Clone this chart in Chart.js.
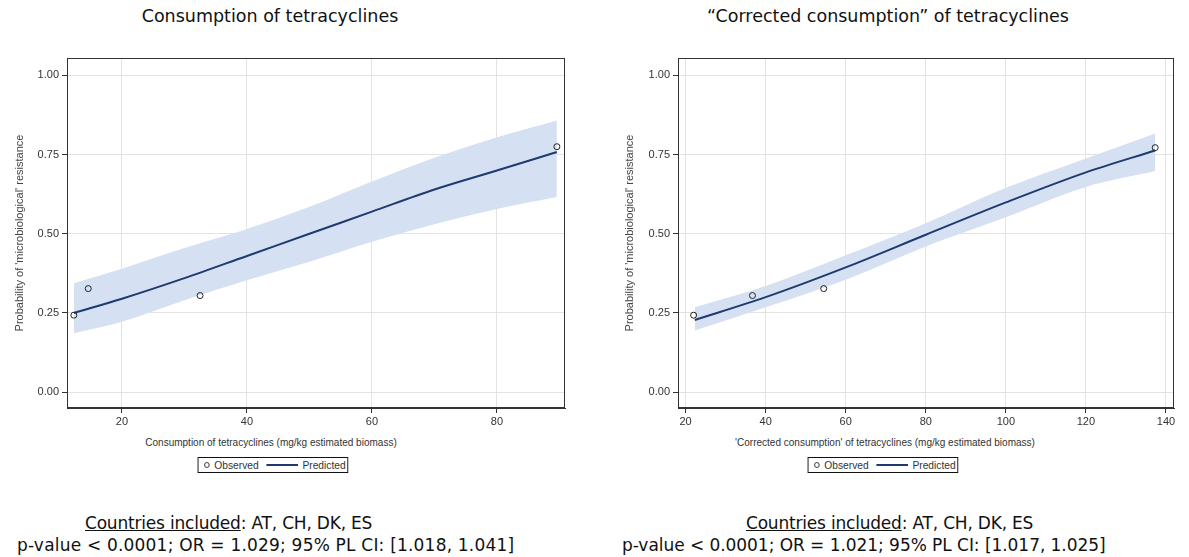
<!DOCTYPE html>
<html>
<head>
<meta charset="utf-8">
<script src="https://cdn.jsdelivr.net/npm/chart.js@4.4.1/dist/chart.umd.min.js"></script>
<style>
    body { margin: 0; background: #fff; width: 1189px; height: 557px; position: relative; overflow: hidden; }
    canvas { position: absolute; }
    .title { position: absolute; top: 5px; font: 17.5px "DejaVu Sans", Verdana, sans-serif; line-height: 22px; color: #111; white-space: nowrap; transform: translateX(-50%); }
    .xlabel { position: absolute; top: 436px; font: 11px "Liberation Sans", Arial, sans-serif; color: #333; white-space: nowrap; transform: translateX(-50%) scaleX(0.91); }
    .legend { position: absolute; top: 457px; height: 14px; border: 1px solid #111; font: 11px "Liberation Sans", Arial, sans-serif; color: #333; line-height: 14px; white-space: nowrap; transform: translateX(-50%) scaleX(0.93); padding: 0 2px 0 6px; display: flex; align-items: center; }
    .legend .dot { width: 4px; height: 4px; border: 1px solid #333; border-radius: 50%; margin-right: 5px; }
    .legend .line { width: 34px; height: 2px; background: #1e3a6e; margin: 0 5px 0 8px; }
    .note { position: absolute; font: 17px "DejaVu Sans", Verdana, sans-serif; color: #111; white-space: nowrap; line-height: 20px; }
    .note u { text-decoration: underline; }
</style>
</head>
<body>
<div class="title" style="left:270px">Consumption of tetracyclines</div>
<div class="title" style="left:888px">“Corrected consumption” of tetracyclines</div>

<canvas id="chartLeft" width="570" height="390" style="left:0px; top:40px"></canvas>
<canvas id="chartRight" width="589" height="390" style="left:590px; top:40px"></canvas>

<div class="xlabel" style="left:271px">Consumption of tetracyclines (mg/kg estimated biomass)</div>
<div class="xlabel" style="left:885px">'Corrected consumption' of tetracyclines (mg/kg estimated biomass)</div>

<div class="legend" style="left:273px"><span class="dot"></span>Observed<span class="line"></span>Predicted</div>
<div class="legend" style="left:883px"><span class="dot"></span>Observed<span class="line"></span>Predicted</div>

<div class="note" style="left:85px; top:513px; letter-spacing:-0.2px"><u>Countries included</u>: AT, CH, DK, ES</div>
<div class="note" style="left:17px; top:535px; letter-spacing:0.2px">p-value &lt; 0.0001; OR = 1.029; 95% PL CI: [1.018, 1.041]</div>
<div class="note" style="left:746px; top:513px; letter-spacing:-0.2px"><u>Countries included</u>: AT, CH, DK, ES</div>
<div class="note" style="left:622px; top:535px; letter-spacing:-0.05px">p-value &lt; 0.0001; OR = 1.021; 95% PL CI: [1.017, 1.025]</div>

<script>
// Left panel: consumption of tetracyclines
const observedX1 = [12.3, 14.6, 32.5, 89.6];
const observedY1 = [0.243, 0.327, 0.305, 0.775];
const predictedX1 = [12.3, 20, 30, 40, 50, 60, 70, 80, 89.6];
const predictedY1 = [0.250, 0.295, 0.360, 0.430, 0.500, 0.570, 0.640, 0.700, 0.758];
const upperCL1 = [0.344, 0.390, 0.455, 0.515, 0.585, 0.665, 0.740, 0.805, 0.858];
const lowerCL1 = [0.186, 0.222, 0.290, 0.353, 0.412, 0.475, 0.530, 0.578, 0.616];
const xTicks1 = [20, 40, 60, 80];

// Right panel: "corrected consumption" of tetracyclines
const observedX2 = [22.0, 36.7, 54.5, 137.3];
const observedY2 = [0.243, 0.305, 0.327, 0.772];
const predictedX2 = [22.3, 40, 60, 80, 100, 120, 137.3];
const predictedY2 = [0.228, 0.300, 0.394, 0.497, 0.599, 0.694, 0.763];
const upperCL2 = [0.268, 0.335, 0.432, 0.533, 0.645, 0.738, 0.817];
const lowerCL2 = [0.195, 0.268, 0.355, 0.460, 0.552, 0.648, 0.698];
const xTicks2 = [20, 40, 60, 80, 100, 120, 140];

const yTicks = [0, 0.25, 0.5, 0.75, 1];
const yTitle = "Probability of 'microbiological' resistance";

const BAND_COLOR = "rgb(213, 225, 242)";
const LINE_COLOR = "#1e3a6e";
const TICK_FONT = { family: "'Liberation Sans', Arial, sans-serif", size: 11 };

const toPoints = (xs, ys) => xs.map((x, i) => ({ x: x, y: ys[i] }));

// draws the top and right sides of the plot frame
const framePlugin = {
    id: "frame",
    afterDraw(chart) {
        const { ctx, chartArea } = chart;
        ctx.save();
        ctx.strokeStyle = "#333";
        ctx.lineWidth = 1;
        ctx.strokeRect(Math.round(chartArea.left) + 0.5, Math.round(chartArea.top) + 0.5,
            Math.round(chartArea.right - chartArea.left) - 1, Math.round(chartArea.bottom - chartArea.top) - 1);
        ctx.restore();
    },
};

const createPanel = function (canvasId, opts) {
    const config = {
        type: "scatter",
        data: {
            datasets: [{
                label: "Upper CL",
                data: toPoints(opts.fitX, opts.upper),
                showLine: true,
                borderWidth: 0,
                pointRadius: 0,
                cubicInterpolationMode: "monotone",
                backgroundColor: BAND_COLOR,
                fill: "+1",
                order: 3,
            }, {
                label: "Lower CL",
                data: toPoints(opts.fitX, opts.lower),
                showLine: true,
                borderWidth: 0,
                pointRadius: 0,
                cubicInterpolationMode: "monotone",
                fill: false,
                order: 4,
            }, {
                label: "Predicted",
                data: toPoints(opts.fitX, opts.fitY),
                showLine: true,
                borderColor: LINE_COLOR,
                borderWidth: 2,
                pointRadius: 0,
                cubicInterpolationMode: "monotone",
                fill: false,
                order: 1,
            }, {
                label: "Observed",
                data: toPoints(opts.obsX, opts.obsY),
                showLine: false,
                pointStyle: "circle",
                pointRadius: 3,
                borderColor: "#222",
                borderWidth: 1,
                backgroundColor: "rgba(0,0,0,0)",
                order: 0,
            }],
        },
        options: {
            responsive: false,
            animation: false,
            devicePixelRatio: 1,
            layout: { padding: { top: 18, right: 1, left: 0, bottom: 0 } },
            plugins: {
                legend: { display: false },
                tooltip: { enabled: false },
            },
            scales: {
                x: {
                    type: "linear",
                    min: opts.xMin,
                    max: opts.xMax,
                    grid: { color: "#e3e3e3", tickColor: "#333", tickLength: 5 },
                    border: { display: true, color: "#333" },
                    afterBuildTicks: function (scale) {
                        scale.ticks = opts.xTicks.map((v) => ({ value: v }));
                    },
                    ticks: {
                        maxRotation: 0,
                        autoSkip: false,
                        padding: 2,
                        color: "#333",
                        font: TICK_FONT,
                    },
                    afterFit: function (scale) {
                        scale.height = 22;
                    },
                },
                y: {
                    type: "linear",
                    min: -0.05,
                    max: 1.055,
                    grid: { color: "#e3e3e3", tickColor: "#333", tickLength: 5 },
                    border: { display: true, color: "#333" },
                    afterBuildTicks: function (scale) {
                        scale.ticks = yTicks.map((v) => ({ value: v }));
                    },
                    ticks: {
                        padding: 3,
                        color: "#333",
                        font: TICK_FONT,
                        callback: (value) => value.toFixed(2),
                    },
                    title: {
                        display: true,
                        text: yTitle,
                        color: "#444",
                        font: TICK_FONT,
                        padding: { top: opts.yTitlePad, bottom: 0 },
                    },
                    afterFit: function (scale) {
                        scale.width = opts.yWidth;
                    },
                },
            },
        },
        plugins: [framePlugin],
    };
    return new Chart(document.getElementById(canvasId).getContext("2d"), config);
};

createPanel("chartLeft", {
    obsX: observedX1, obsY: observedY1,
    fitX: predictedX1, fitY: predictedY1,
    upper: upperCL1, lower: lowerCL1,
    xMin: 11.2, xMax: 90.9, xTicks: xTicks1,
    yWidth: 67, yTitlePad: 13,
});

createPanel("chartRight", {
    obsX: observedX2, obsY: observedY2,
    fitX: predictedX2, fitY: predictedY2,
    upper: upperCL2, lower: lowerCL2,
    xMin: 18.1, xMax: 142.0, xTicks: xTicks2,
    yWidth: 88, yTitlePad: 33,
});
</script>
</body>
</html>
